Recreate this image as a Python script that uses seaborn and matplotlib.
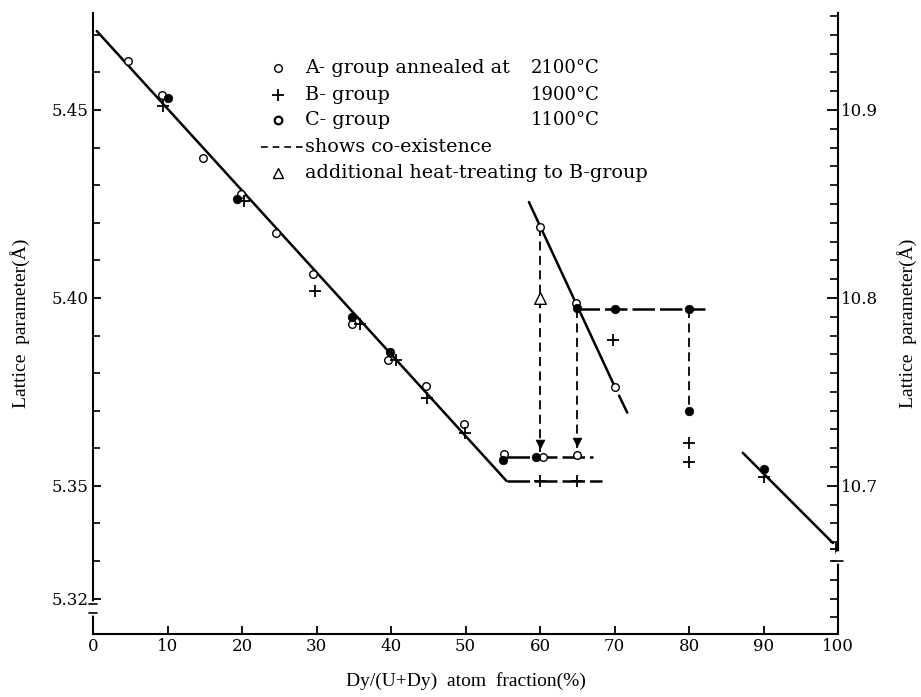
import numpy as np
import pandas as pd
import matplotlib
matplotlib.use("Agg")
import matplotlib.pyplot as plt
from matplotlib.ticker import MultipleLocator, FixedLocator, FormatStrFormatter
import seaborn as sns

# A-group (annealed 2100C), open circles
a_x = [4.7, 9.3, 14.8, 19.8, 24.6, 29.5, 34.8, 39.6, 44.7, 49.8, 55.2, 60.4, 65.0, 60.0, 64.8, 70.0]
a_y = [5.463, 5.454, 5.4372, 5.4276, 5.4173, 5.4064, 5.3931, 5.3835, 5.3766, 5.3665,
       5.3585, 5.3577, 5.3582, 5.4189, 5.3987, 5.3763]
# B-group (1900C), plus signs
b_x = [9.4, 20.2, 29.8, 35.8, 40.7, 44.8, 49.9, 60.0, 65.0, 69.8, 80.0, 80.0, 90.0, 99.7]
b_y = [5.451, 5.4258, 5.4019, 5.3931, 5.3835, 5.3734, 5.3641, 5.3513, 5.3513, 5.3888,
       5.3614, 5.3564, 5.3524, 5.3332]
# C-group (1100C), filled dots
c_x = [10.0, 19.3, 34.8, 39.9, 55.0, 59.5, 65.0, 70.0, 80.0, 80.0, 90.1]
c_y = [5.4532, 5.4263, 5.395, 5.3856, 5.3568, 5.3577, 5.3973, 5.397, 5.397, 5.370, 5.3545]
# additional heat treatment to B-group
t_x = [60.0]
t_y = [5.400]

# fitted lines (end points)
main_x, main_y = [0.5, 55.5], [5.471, 5.3513]
steep_x, steep_y = [58.5, 70.0], [5.4255, 5.3765]
tail_x, tail_y = [70.6, 71.7], [5.3740, 5.3695]
right_x, right_y = [87.2, 99.3], [5.3588, 5.3348]
flat_b_x, flat_b_y = [55.5, 68.3], [5.3513, 5.3513]
flat_c_x, flat_c_y = [55.5, 67.1], [5.3577, 5.3577]
flat_top_x, flat_top_y = [65.0, 82.1], [5.397, 5.397]

# co-existence verticals (x, top, bottom)
vert_x = [60.0, 65.0, 80.0]
vert_top = [5.4189, 5.397, 5.397]
vert_bot = [5.3590, 5.3594, 5.370]
arrow_x = [60.0, 65.0]
arrow_y = [5.3612, 5.3616]

sns.set_style("ticks")
plt.rcParams['font.family'] = ['DejaVu Serif']
plt.rcParams.update({'text.color': 'black', 'axes.labelcolor': 'black',
                     'xtick.color': 'black', 'ytick.color': 'black',
                     'axes.edgecolor': 'black',
                     'xtick.direction': 'in', 'ytick.direction': 'in'})

fig = plt.figure(figsize=(9.21, 6.97), dpi=100)
ax = fig.add_axes([0.101, 0.0904, 0.809, 0.891])

lw = 1.8
sns.lineplot(x=main_x, y=main_y, ax=ax, color='black', lw=lw, sort=False, estimator=None)
sns.lineplot(x=steep_x, y=steep_y, ax=ax, color='black', lw=lw, sort=False, estimator=None)
sns.lineplot(x=tail_x, y=tail_y, ax=ax, color='black', lw=lw, sort=False, estimator=None)
sns.lineplot(x=right_x, y=right_y, ax=ax, color='black', lw=lw, sort=False, estimator=None)
for fx, fy in [(flat_b_x, flat_b_y), (flat_c_x, flat_c_y), (flat_top_x, flat_top_y)]:
    sns.lineplot(x=fx, y=fy, ax=ax, color='black', lw=lw, sort=False, estimator=None,
                 dashes=False).lines[-1].set_dashes((9, 2))
for vx, vt, vb in zip(vert_x, vert_top, vert_bot):
    ax.plot([vx, vx], [vt, vb], color='black', lw=1.3, dashes=(5, 3))
sns.scatterplot(x=arrow_x, y=arrow_y, ax=ax, marker='v', s=40, color='black', edgecolor='black')

sns.scatterplot(x=a_x, y=a_y, ax=ax, marker='o', s=30, facecolor='white', edgecolor='black',
                linewidth=1.0, zorder=3)
sns.scatterplot(x=b_x, y=b_y, ax=ax, marker='+', s=70, color='black', linewidth=1.3, zorder=3)
sns.scatterplot(x=c_x, y=c_y, ax=ax, marker='o', s=38, color='black', edgecolor='black', zorder=3)
sns.scatterplot(x=t_x, y=t_y, ax=ax, marker='^', s=70, facecolor='white', edgecolor='black',
                linewidth=1.0, zorder=3)

ax.set_xlim(0, 100)
ax.set_ylim(5.3106, 5.4758)
ax.spines['top'].set_visible(False)
for s in ['left', 'bottom', 'right']:
    ax.spines[s].set_linewidth(1.5)
ax.spines['right'].set_visible(False)

ax.xaxis.set_major_locator(MultipleLocator(10))
ax.yaxis.set_major_locator(FixedLocator([5.32, 5.35, 5.40, 5.45]))
ax.yaxis.set_minor_locator(MultipleLocator(0.01))
ax.yaxis.set_major_formatter(FormatStrFormatter('%.2f'))
ax.tick_params(axis='both', which='major', length=6, width=1.3, labelsize=12, pad=3)
ax.tick_params(axis='y', which='minor', length=5, width=1.2)

sec = ax.secondary_yaxis('right', functions=(lambda v: 2 * v, lambda v: v / 2))
sec.spines['right'].set_linewidth(1.5)
sec.yaxis.set_major_locator(FixedLocator([10.7, 10.8, 10.9]))
sec.yaxis.set_minor_locator(MultipleLocator(0.01))
sec.yaxis.set_major_formatter(FormatStrFormatter('%.1f'))
sec.tick_params(axis='y', which='major', direction='in', length=8, width=1.3, labelsize=12, pad=2)
sec.tick_params(axis='y', which='minor', direction='in', length=6, width=1.2)
sec.set_ylabel('Lattice  parameter(Å)', fontsize=14, labelpad=14, family='Liberation Serif')

ax.set_xlabel('Dy/(U+Dy)  atom  fraction(%)', fontsize=14, labelpad=12, family='Liberation Serif')
ax.set_ylabel('Lattice  parameter(Å)', fontsize=14, labelpad=16, family='Liberation Serif')

# spine breaks
ax.plot([0, 0], [5.3185, 5.3163], color='white', lw=4, clip_on=False, zorder=5)
ax.plot([-0.6, 0.6], [5.3185, 5.3185], color='black', lw=1.2, clip_on=False, zorder=6)
ax.plot([-0.6, 0.6], [5.3163, 5.3163], color='black', lw=1.2, clip_on=False, zorder=6)
ax.plot([100, 100], [5.3318, 5.3300], color='white', lw=4, clip_on=False, zorder=5)
ax.plot([99.3, 100.7], [5.3300, 5.3300], color='black', lw=1.2, clip_on=False, zorder=6)

# legend drawn by hand
tr = ax.transAxes
rows = [0.9114, 0.8680, 0.8277, 0.7842, 0.7423]
mx, tx, rx = 0.248, 0.285, 0.6805
ax.plot([mx], [rows[0]], 'o', ms=5.5, mfc='white', mec='black', mew=1.0, transform=tr)
ax.plot([mx], [rows[1]], '+', ms=9, color='black', mew=1.3, transform=tr)
ax.plot([mx], [rows[2]], 'o', ms=5.5, mfc='white', mec='black', mew=1.6, transform=tr)
ax.plot([0.225, 0.283], [rows[3], rows[3]], color='black', lw=1.2, dashes=(4, 3), transform=tr)
ax.plot([mx], [rows[4]], '^', ms=7, mfc='white', mec='black', mew=1.0, transform=tr)
fs = 13.8
ax.text(tx, rows[0], 'A- group annealed at', transform=tr, fontsize=fs, va='center')
ax.text(tx, rows[1], 'B- group', transform=tr, fontsize=fs, va='center')
ax.text(tx, rows[2], 'C- group', transform=tr, fontsize=fs, va='center')
ax.text(tx, rows[3], 'shows co-existence', transform=tr, fontsize=fs, va='center')
ax.text(tx, rows[4], 'additional heat-treating to B-group', transform=tr, fontsize=fs, va='center')
for r, t in zip(rows[:3], ['2100°C', '1900°C', '1100°C']):
    ax.text(rx, r, t, transform=tr, fontsize=13, va='center', ha='right')

fig.savefig('out.png', dpi=100)
